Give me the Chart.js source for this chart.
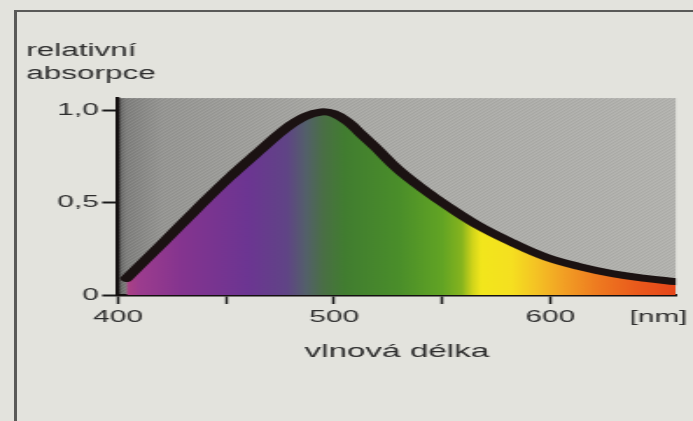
<!DOCTYPE html>
<html lang="cs">
<head>
    <meta charset="UTF-8">
    <title>relativní absorpce</title>
    <script src="https://cdn.jsdelivr.net/npm/chart.js@4/dist/chart.umd.min.js"></script>
    <style>
        body {
            margin: 0;
            width: 693px;
            height: 421px;
            overflow: hidden;
            background: #e3e3dd;
            position: relative;
        }

        .frame {
            position: absolute;
            left: 14px;
            top: 10px;
            right: 0;
            bottom: 0;
            border-top: 2px solid #5a5a58;
            border-left: 3px solid #5a5a58;
        }

        /* the print is wide, so the canvas is drawn narrow and stretched */
        #spectrumChart {
            position: absolute;
            left: 0;
            top: 0;
            transform: scaleX(1.75);
            transform-origin: 0 0;
        }
    </style>
</head>
<body>
    <div class="frame"></div>
    <canvas id="spectrumChart" width="396" height="421"></canvas>

    <script>
        // absorption curve, wavelength in nm
        const wavelengths = [404, 420.6, 436, 451, 466.5, 477.5, 486.5, 494, 500, 506.5, 512.5, 519, 529.5, 541.5, 552.5, 567.5, 583, 598, 613, 629, 644, 658];
        const absorbance = [0.09, 0.28, 0.46, 0.63, 0.79, 0.90, 0.965, 0.99, 0.98, 0.935, 0.87, 0.80, 0.68, 0.57, 0.48, 0.37, 0.28, 0.205, 0.155, 0.115, 0.09, 0.072];

        const xTicks = [400, 450, 500, 550, 600, 650];
        const xTickLabels = ['400', '', '500', '', '600', '[nm]'];
        const yTicks = [0, 0.5, 1];
        const yTickLabels = ['0', '0,5', '1,0'];

        // colours of the spectrum under the curve
        const spectrumNm = [400, 410, 430, 460, 478, 487, 495, 505, 530, 550, 559, 564, 568, 582, 593, 606, 622, 640, 658];
        const spectrumColors = ['#b8457e', '#9c3c8e', '#84348f', '#6c3592', '#604486', '#53606a', '#4a6f45', '#417d30',
            '#4a8e2a', '#62a424', '#86b41e', '#d0d41a', '#f2e61c', '#f5e020', '#f4c424', '#f2a024', '#ee7a20', '#ea5a1c', '#e6461a'];

        const X_MIN = 400, X_MAX = 658;
        const fontFamily = "'Liberation Sans', Arial, sans-serif";
        const textColor = '#2e2e2e';

        function spectrumFill(context) {
            const chart = context.chart;
            const area = chart.chartArea;
            if (!area) return '#6c3590';
            const x = chart.scales.x;
            const left = x.getPixelForValue(X_MIN);
            const right = x.getPixelForValue(X_MAX);
            const grad = chart.ctx.createLinearGradient(left, 0, right, 0);
            spectrumNm.forEach((nm, i) => {
                grad.addColorStop((nm - X_MIN) / (X_MAX - X_MIN), spectrumColors[i]);
            });
            return grad;
        }

        // fine diagonal screen for the grey paper
        function hatchPattern(ctx) {
            const tile = document.createElement('canvas');
            tile.width = 3;
            tile.height = 3;
            const t = tile.getContext('2d');
            t.fillStyle = 'rgba(255,255,255,0.08)';
            for (let i = 0; i < 3; i++) t.fillRect(i, 2 - i, 1, 1);
            t.fillStyle = 'rgba(0,0,0,0.04)';
            for (let i = 0; i < 3; i++) t.fillRect(i, (3 - i) % 3, 1, 1);
            return ctx.createPattern(tile, 'repeat');
        }

        // grey backdrop behind the curve
        const backdrop = {
            id: 'backdrop',
            beforeDraw(chart) {
                const {ctx, chartArea: a} = chart;
                const grad = ctx.createLinearGradient(a.left, 0, a.right, 0);
                grad.addColorStop(0, '#5c5c5b');
                grad.addColorStop(0.015, '#7e7e7c');
                grad.addColorStop(0.08, '#959592');
                grad.addColorStop(0.4, '#a8a8a4');
                grad.addColorStop(1, '#b2b2ae');
                ctx.save();
                ctx.fillStyle = grad;
                ctx.fillRect(a.left, a.top, a.right - a.left, a.bottom - a.top);
                ctx.fillStyle = hatchPattern(ctx);
                ctx.fillRect(a.left, a.top, a.right - a.left, a.bottom - a.top);
                ctx.restore();
            }
        };

        const ctx = document.getElementById('spectrumChart').getContext('2d');
        new Chart(ctx, {
            type: 'line',
            data: {
                datasets: [{
                    data: wavelengths.map((w, i) => ({x: w, y: absorbance[i]})),
                    borderColor: '#1b1212',
                    borderWidth: 7,
                    borderCapStyle: 'round',
                    borderJoinStyle: 'round',
                    backgroundColor: spectrumFill,
                    fill: 'origin',
                    pointRadius: 0,
                    tension: 0.4
                }]
            },
            options: {
                responsive: false,
                animation: false,
                layout: {
                    padding: {left: 15, right: 7, top: 0, bottom: 0}
                },
                plugins: {
                    legend: {display: false},
                    tooltip: {enabled: false},
                    title: {
                        display: true,
                        text: ['relativní', 'absorpce'],
                        align: 'start',
                        color: textColor,
                        font: {family: fontFamily, size: 18, weight: 'normal', lineHeight: 1.28},
                        padding: {top: 39.5, bottom: 12.5}
                    }
                },
                scales: {
                    x: {
                        type: 'linear',
                        min: X_MIN,
                        max: X_MAX,
                        z: 1,
                        afterBuildTicks: scale => {
                            scale.ticks = xTicks.map(v => ({value: v}));
                        },
                        afterFit: scale => {
                            scale.height = 126;
                        },
                        ticks: {
                            autoSkip: false,
                            maxRotation: 0,
                            padding: 3,
                            color: textColor,
                            font: {family: fontFamily, size: 17},
                            callback: (value, index) => xTickLabels[index]
                        },
                        grid: {
                            drawOnChartArea: false,
                            tickLength: 9,
                            tickWidth: 1.5,
                            tickColor: c => (c.tick && c.tick.value === 650) ? 'rgba(0,0,0,0)' : '#1a1a1a'
                        },
                        border: {color: '#141010', width: 2.5},
                        title: {
                            display: true,
                            text: 'vlnová délka',
                            color: textColor,
                            font: {family: fontFamily, size: 19},
                            padding: {top: 4, bottom: 58}
                        }
                    },
                    y: {
                        min: 0,
                        max: 1.065,
                        z: 1,
                        afterBuildTicks: scale => {
                            scale.ticks = yTicks.map(v => ({value: v}));
                        },
                        afterFit: scale => {
                            scale.width = 52.4;
                        },
                        ticks: {
                            padding: 2,
                            color: textColor,
                            font: {family: fontFamily, size: 17},
                            callback: (value, index) => yTickLabels[index]
                        },
                        grid: {
                            drawOnChartArea: false,
                            tickLength: 9,
                            tickWidth: 2,
                            tickColor: '#1a1a1a'
                        },
                        border: {color: '#141010', width: 2.3}
                    }
                }
            },
            plugins: [backdrop]
        });
    </script>
</body>
</html>
